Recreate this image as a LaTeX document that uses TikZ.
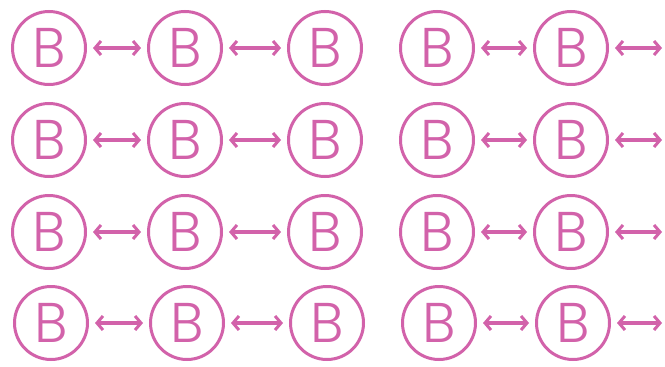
\documentclass[tikz,border=0pt]{standalone}
\usepackage{fontspec}
\newfontfamily\bfont{Poppins Light}
\usetikzlibrary{arrows.meta}
\definecolor{pk}{RGB}{210,98,170}
\tikzset{
  bcirc/.style={circle, draw=pk, line width=3pt, minimum size=73pt, inner sep=0pt, text=pk, font=\bfont\fontsize{56}{56}\selectfont},
  link/.style={draw=pk, line width=3.2pt, {Straight Barb[length=6pt,width=14pt,line width=3pt]}-{Straight Barb[length=6pt,width=14pt,line width=3pt]}, shorten <=6pt, shorten >=6pt}
}
\begin{document}
\begin{tikzpicture}[x=1pt,y=-1pt]
\useasboundingbox (0,0) rectangle (665,367);
\foreach \r/\y/\dx in {1/48/0, 2/140/0, 3/232/0, 4/323/2} {
  \node[bcirc] (c\r-1) at (49+\dx,\y) {B};
  \node[bcirc] (c\r-2) at (185+\dx,\y) {B};
  \node[bcirc] (c\r-3) at (325+\dx,\y) {B};
  \node[bcirc] (c\r-4) at (437+\dx,\y) {B};
  \node[bcirc] (c\r-5) at (571+\dx,\y) {B};
  \coordinate (e\r) at (668,\y);
  \draw[link] (c\r-1) -- (c\r-2);
  \draw[link] (c\r-2) -- (c\r-3);
  \draw[link] (c\r-4) -- (c\r-5);
  \draw[link] (c\r-5) -- (e\r);
}
\end{tikzpicture}
\end{document}
